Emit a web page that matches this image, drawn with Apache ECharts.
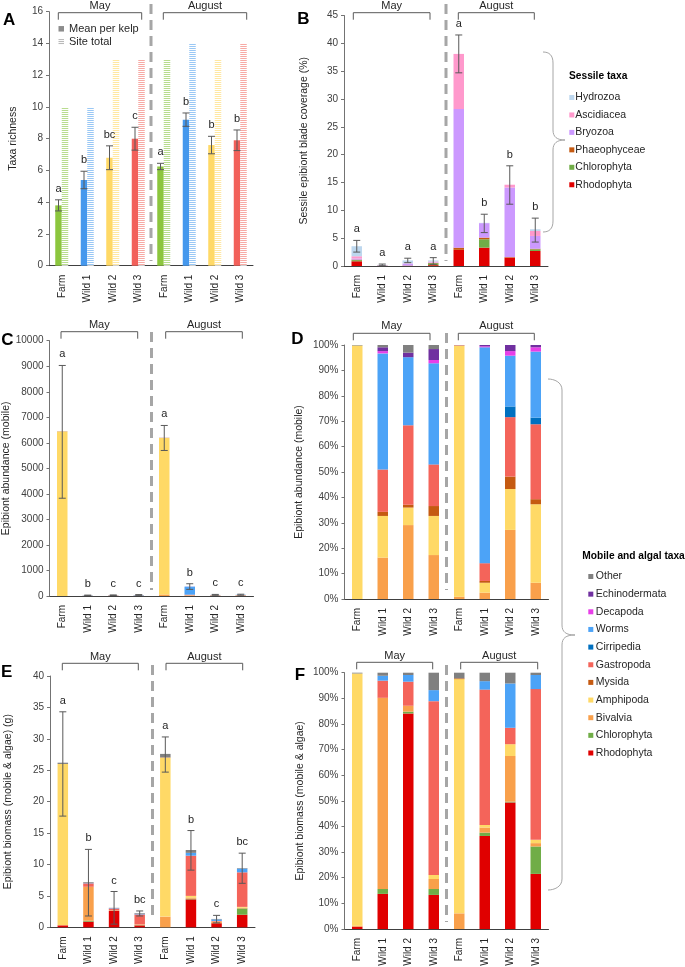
<!DOCTYPE html>
<html><head><meta charset="utf-8">
<script src="https://cdn.jsdelivr.net/npm/echarts@6/dist/echarts.min.js"></script>
<style>html,body{margin:0;padding:0;background:#fff}#c{width:685px;height:967px}</style>
</head><body><div id="c"></div>
<script>
// ---------- categories ----------
const sites = ['Farm', 'Wild 1', 'Wild 2', 'Wild 3'];
const months = ['May', 'August'];
const categories = months.flatMap(m => sites.map(s => m + '|' + s));

// ---------- Panel A: taxa richness ----------
const richnessMean = [3.8, 5.4, 6.8, 8.0, 6.25, 9.2, 7.6, 7.9];
const richnessLow = [3.45, 4.85, 6.05, 7.28, 6.05, 8.78, 7.05, 7.25];
const richnessHigh = [4.15, 5.95, 7.55, 8.72, 6.45, 9.62, 8.15, 8.55];
const richnessTotal = [10, 10, 13, 13, 13, 14, 13, 14];
const richnessLetters = ['a', 'b', 'bc', 'c', 'a', 'b', 'b', 'b'];

// ---------- Panel B: sessile coverage (%) ----------
const sessileTaxa = ['Rhodophyta', 'Chlorophyta', 'Phaeophyceae', 'Bryozoa', 'Ascidiacea', 'Hydrozoa']; // bottom -> top
const coverage = [
  [0.85, 0.05, 0.05, 0.15, 2.9, 3.3, 1.5, 2.7],
  [0.2, 0.02, 0.03, 0.35, 0.0, 1.5, 0.0, 0.3],
  [0.1, 0.0, 0.0, 0.05, 0.4, 0.3, 0.1, 0.1],
  [0.2, 0.05, 0.35, 0.1, 24.9, 2.6, 12.5, 2.3],
  [0.4, 0.0, 0.05, 0.15, 9.9, 0.0, 0.5, 0.9],
  [1.8, 0.08, 0.52, 0.2, 0.0, 0.05, 0.0, 0.3]
];
const coverageLow = [2.5, 0.05, 0.6, 0.3, 34.7, 6.0, 11.1, 4.3];
const coverageHigh = [4.6, 0.35, 1.4, 1.5, 41.5, 9.3, 18.0, 8.6];
const coverageLetters = ['a', 'a', 'a', 'a', 'a', 'b', 'b', 'b'];

// ---------- Panel C / D: mobile abundance ----------
const mobileTaxa = ['Bivalvia', 'Amphipoda', 'Mysida', 'Gastropoda', 'Cirripedia', 'Worms', 'Decapoda', 'Echinodermata', 'Other']; // bottom -> top
const abundance = [
  [0, 4, 9, 7, 60, 9, 12, 3],
  [6440, 4, 2, 6, 6130, 14, 7, 15],
  [0, 0.4, 0.3, 1.6, 0, 3, 2, 1],
  [5, 4, 9, 7, 5, 26, 10, 15],
  [0, 0, 0, 0, 0, 0, 2, 1.3],
  [0, 11, 8, 16, 0, 315, 9, 13],
  [0, 0.2, 0, 0.5, 0, 1.5, 0.8, 0.8],
  [0, 0.4, 0.6, 1.7, 0, 2, 1, 0.4],
  [5, 0.2, 0.9, 0.6, 5, 0, 0, 0.1]
];
const abundanceLow = [3830, 15, 20, 25, 5700, 260, 28, 30];
const abundanceHigh = [9030, 35, 42, 55, 6680, 480, 62, 70];
const abundanceLetters = ['a', 'b', 'c', 'c', 'a', 'b', 'c', 'c'];
const abundancePct = [
  [0, 16.3, 29.1, 17.3, 0.9, 2.5, 27.2, 6.4],
  [99.8, 16.4, 6.9, 15.4, 98.8, 3.9, 16.1, 30.9],
  [0, 1.6, 1.1, 3.9, 0, 0.7, 4.9, 2.0],
  [0, 16.7, 31.3, 16.4, 0.2, 7.0, 23.4, 29.5],
  [0, 0, 0, 0, 0, 0, 4.2, 2.6],
  [0, 45.7, 26.8, 39.8, 0, 85.0, 20.0, 26.0],
  [0, 0.9, 0, 1.3, 0, 0.4, 1.8, 1.7],
  [0, 1.5, 1.8, 4.3, 0, 0.5, 2.4, 0.9],
  [0.2, 0.9, 3.0, 1.6, 0.1, 0, 0, 0]
];

// ---------- Panel E / F: biomass ----------
const biomassTaxa = ['Rhodophyta', 'Chlorophyta', 'Bivalvia', 'Amphipoda', 'Mysida', 'Gastropoda', 'Cirripedia', 'Worms', 'Decapoda', 'Echinodermata', 'Other'];
const biomass = [
  [0.3, 0.9, 2.6, 0.3, 0, 4.45, 0.65, 2.0],
  [0, 0.15, 0.02, 0.05, 0, 0.1, 0.01, 1.0],
  [0.05, 5.4, 0.08, 0.05, 1.7, 0.2, 0.2, 0.12],
  [25.65, 0, 0, 0.05, 25.3, 0.25, 0.05, 0.13],
  [0, 0, 0, 0, 0.05, 0, 0, 0],
  [0, 0.55, 0.3, 1.6, 0, 6.4, 0.1, 5.5],
  [0, 0, 0, 0, 0, 0, 0, 0],
  [0, 0.05, 0.07, 0.1, 0, 0.45, 0.25, 0.6],
  [0, 0, 0, 0, 0, 0, 0, 0],
  [0, 0, 0, 0, 0, 0, 0, 0],
  [0.2, 0.12, 0.03, 0.1, 0.55, 0.45, 0.07, 0.08]
];
const biomassLow = [17.7, 1.8, 0.5, 1.8, 24.7, 9.1, 0.7, 7.0];
const biomassHigh = [34.3, 12.4, 5.7, 2.6, 30.3, 15.4, 1.9, 11.8];
const biomassLetters = ['a', 'b', 'c', 'bc', 'a', 'b', 'c', 'bc'];
const biomassPct = [
  [0.9, 13.7, 84.1, 13.3, 0, 36.3, 49.4, 21.5],
  [0, 1.9, 0.7, 2.3, 0, 1.3, 0.3, 10.7],
  [0.4, 74.6, 2.3, 3.9, 6.1, 2.0, 17.8, 1.3],
  [98.4, 0, 0, 1.6, 91.4, 1.0, 4.6, 1.3],
  [0, 0, 0, 0, 0.3, 0, 0, 0],
  [0, 6.7, 9.4, 67.8, 0, 52.8, 6.4, 58.8],
  [0, 0, 0, 0, 0, 0, 0, 0],
  [0, 1.9, 2.6, 4.3, 0, 3.3, 17.3, 5.5],
  [0, 0, 0, 0, 0, 0, 0, 0],
  [0, 0, 0, 0, 0, 0, 0, 0],
  [0.3, 1.2, 0.9, 6.8, 2.2, 3.3, 4.2, 0.9]
];

// ---------- legends ----------
const sessileLegend = ['Hydrozoa', 'Ascidiacea', 'Bryozoa', 'Phaeophyceae', 'Chlorophyta', 'Rhodophyta'];
const mobileLegend = ['Other', 'Echinodermata', 'Decapoda', 'Worms', 'Cirripedia', 'Gastropoda', 'Mysida', 'Amphipoda', 'Bivalvia', 'Chlorophyta', 'Rhodophyta'];

// ---------- styles ----------
const FONT = '"Liberation Sans", Arial, sans-serif';
const taxonColor = {
  Rhodophyta: '#e00000', Chlorophyta: '#70ad47', Phaeophyceae: '#c55a11', Bryozoa: '#cc99ff',
  Ascidiacea: '#ff99cc', Hydrozoa: '#bdd7ee',
  Other: '#808080', Echinodermata: '#7030a0', Decapoda: '#e83ee8', Worms: '#4ca3f7',
  Cirripedia: '#0070c0', Gastropoda: '#f4645a', Mysida: '#c55a11', Amphipoda: '#ffd966', Bivalvia: '#f9a04b'
};
const siteColors = ['#8cc63e', '#4598ed', '#ffd966', '#f2605a'];
const stripeColors = ['#b8dc8e', '#9ac8f5', '#ffe8a3', '#f7aaa5'];

function stripe(color) {
  const c = document.createElement('canvas');
  c.width = 4; c.height = 2;
  const ctx = c.getContext('2d');
  ctx.fillStyle = '#ffffff'; ctx.fillRect(0, 0, 4, 2);
  ctx.fillStyle = color; ctx.fillRect(0, 0, 4, 1);
  return { image: c, repeat: 'repeat' };
}

const grids = [
  { left: 49, top: 11.7, width: 204, height: 254 },
  { left: 344, top: 15.5, width: 204, height: 250.5 },
  { left: 49.5, top: 340.7, width: 204, height: 255.3 },
  { left: 344.5, top: 345, width: 204, height: 254 },
  { left: 50, top: 676, width: 205, height: 251.3 },
  { left: 344.5, top: 672.7, width: 204, height: 256.3 }
].map(g => Object.assign({ outerBoundsMode: 'none', containLabel: false }, g));

function xAxisCfg(gi) {
  return {
    type: 'category', gridIndex: gi, data: categories,
    axisTick: { show: false },
    axisLine: { show: true, lineStyle: { color: '#404040', width: 1 } },
    splitLine: { show: false },
    axisLabel: { rotate: 90, margin: 9, interval: 0, fontSize: 10, color: '#262626', fontFamily: FONT,
      formatter: v => v.split('|')[1] }
  };
}
function yAxisCfg(gi, max, interval, name, gap, pct) {
  return {
    type: 'value', gridIndex: gi, min: 0, max: max, interval: interval,
    name: name, nameLocation: 'middle', nameGap: gap,
    nameTextStyle: { fontSize: 10.5, color: '#262626', fontFamily: FONT },
    splitLine: { show: false },
    axisLine: { show: true, lineStyle: { color: '#737373' } },
    axisTick: { show: true, length: 3, lineStyle: { color: '#737373' } },
    axisLabel: { fontSize: 10, color: '#404040', fontFamily: FONT, margin: 6,
      formatter: pct ? (v => v + '%') : (v => String(v)) }
  };
}

function errorSeries(gi, lows, highs, letters, offset) {
  return {
    type: 'custom', name: 'err' + gi, xAxisIndex: gi, yAxisIndex: gi, z: 10, silent: true,
    encode: { x: 0, y: [1, 2] },
    data: lows.map((lo, i) => [i, lo, highs[i]]),
    renderItem: function (params, api) {
      const i = api.value(0);
      const top = api.coord([i, api.value(2)]);
      const bot = api.coord([i, api.value(1)]);
      const x = top[0] + offset;
      const st = { stroke: '#595959', lineWidth: 1 };
      return {
        type: 'group', children: [
          { type: 'line', shape: { x1: x, y1: top[1], x2: x, y2: bot[1] }, style: st },
          { type: 'line', shape: { x1: x - 3.5, y1: top[1], x2: x + 3.5, y2: top[1] }, style: st },
          { type: 'line', shape: { x1: x - 3.5, y1: bot[1], x2: x + 3.5, y2: bot[1] }, style: st },
          { type: 'text', x: x, y: top[1] - 11, style: { text: letters[params.dataIndex], fill: '#262626',
            font: '11px ' + FONT, align: 'center', verticalAlign: 'middle' } }
        ]
      };
    }
  };
}

function stackSeries(gi, stackName, taxa, rows, barWidth) {
  return taxa.map((n, k) => ({
    type: 'bar', name: n, xAxisIndex: gi, yAxisIndex: gi, stack: stackName, barWidth: barWidth,
    data: rows[k], itemStyle: { color: taxonColor[n] }, emphasis: { disabled: true }
  }));
}

const series = [
  { type: 'bar', name: 'Mean per kelp', xAxisIndex: 0, yAxisIndex: 0, barWidth: 6.5, barGap: '0%',
    emphasis: { disabled: true },
    data: richnessMean.map((v, i) => ({ value: v, itemStyle: { color: siteColors[i % 4] } })) },
  { type: 'bar', name: 'Site total', xAxisIndex: 0, yAxisIndex: 0, barWidth: 6.5, barGap: '0%',
    emphasis: { disabled: true },
    data: richnessTotal.map((v, i) => ({ value: v, itemStyle: { color: stripe(stripeColors[i % 4]) } })) },
  errorSeries(0, richnessLow, richnessHigh, richnessLetters, -3.25),
  ...stackSeries(1, 'B', sessileTaxa, coverage, 10.5),
  errorSeries(1, coverageLow, coverageHigh, coverageLetters, 0),
  ...stackSeries(2, 'C', mobileTaxa, abundance, 10.5),
  errorSeries(2, abundanceLow, abundanceHigh, abundanceLetters, 0),
  ...stackSeries(3, 'D', mobileTaxa, abundancePct, 10.5),
  ...stackSeries(4, 'E', biomassTaxa, biomass, 10.5),
  errorSeries(4, biomassLow, biomassHigh, biomassLetters, 0),
  ...stackSeries(5, 'F', biomassTaxa, biomassPct, 10.5)
];

const legendText = { fontSize: 10.5, color: '#262626', fontFamily: FONT, lineHeight: 13 };
const legends = [
  { left: 58.5, top: 22.3, padding: 0, orient: 'vertical', icon: 'rect', itemWidth: 5.5, itemHeight: 5.5, itemGap: 0,
    selectedMode: false, textStyle: Object.assign({}, legendText, { fontSize: 11 }),
    data: [{ name: 'Mean per kelp', itemStyle: { color: '#8c8c8c' } },
           { name: 'Site total', itemStyle: { color: stripe('#b5b5b5') } }] },
  { left: 569.3, top: 91, padding: 0, orient: 'vertical', icon: 'rect', itemWidth: 5, itemHeight: 5, itemGap: 4.45,
    selectedMode: false, textStyle: Object.assign({}, legendText, { padding: [0, 0, 0, -4] }),
    data: sessileLegend.map(n => ({ name: n, itemStyle: { color: taxonColor[n] } })) },
  { left: 588.3, top: 570, padding: 0, orient: 'vertical', icon: 'rect', itemWidth: 5, itemHeight: 5, itemGap: 4.65,
    selectedMode: false, textStyle: Object.assign({}, legendText, { padding: [0, 0, 0, -2.5] }),
    data: mobileLegend.map(n => ({ name: n, itemStyle: { color: taxonColor[n] } })) }
];

// annotations (brackets, month labels, separators, braces, panel letters)
const brackets = [
  { y: 12.7, ty: 5.7, may: [58.3, 141.7], aug: [163.3, 246.7] },
  { y: 12.7, ty: 5.7, may: [353.3, 430], aug: [458.3, 534.3] },
  { y: 331.7, ty: 325, may: [61, 137.7], aug: [165.7, 242.3] },
  { y: 333.3, ty: 326, may: [353.3, 430], aug: [458.3, 534.3] },
  { y: 663.3, ty: 656.7, may: [62.3, 138.3], aug: [166, 242.7] },
  { y: 662.3, ty: 655.7, may: [356.7, 432.7], aug: [460.7, 537.7] }
];
const separators = [[4, 261], [4, 261], [332, 590], [333, 590], [665, 920], [665, 922]];
const panelLetters = [['A', 9.2, 20.8], ['B', 303.3, 19.2], ['C', 7.5, 340], ['D', 297.5, 339.5], ['E', 6.7, 672.5], ['F', 300, 675]];
// brace geometry: [xOuter, xInner, xTip, yTop, yTip, yBottom]
const braces = [[543, 553, 565, 52, 140, 232], [548, 562, 575, 379, 635, 890]];

const chart = echarts.init(document.getElementById('c'), null, { renderer: 'canvas' });
chart.setOption({
  animation: false,
  backgroundColor: '#ffffff',
  textStyle: { fontFamily: FONT },
  grid: grids,
  xAxis: grids.map((g, i) => xAxisCfg(i)),
  yAxis: [
    yAxisCfg(0, 16, 2, 'Taxa richness', 30.5, false),
    yAxisCfg(1, 45, 5, 'Sessile epibiont blade coverage (%)', 34, false),
    yAxisCfg(2, 10000, 1000, 'Epibiont abundance (mobile)', 36, false),
    yAxisCfg(3, 100, 10, 'Epibiont abundance (mobile)', 40, true),
    yAxisCfg(4, 40, 5, 'Epibiont biomass (mobile & algae) (g)', 36, false),
    yAxisCfg(5, 100, 10, 'Epibiont biomass (mobile & algae)', 39, true)
  ],
  legend: legends,
  series: series
});

const gfx = [];
const lineStyleGray = { stroke: '#595959', lineWidth: 1, fill: null };
brackets.forEach((b, gi) => {
  [['May', b.may], ['August', b.aug]].forEach(([label, xs]) => {
    gfx.push({ type: 'polyline', silent: true,
      shape: { points: [[xs[0], b.y + 7], [xs[0], b.y], [xs[1], b.y], [xs[1], b.y + 7]] },
      style: lineStyleGray });
    gfx.push({ type: 'text', silent: true, x: (xs[0] + xs[1]) / 2, y: b.ty,
      style: { text: label, font: '11px ' + FONT, fill: '#262626', align: 'center', verticalAlign: 'middle' } });
  });
  const c3 = chart.convertToPixel({ xAxisIndex: gi }, 3);
  const c4 = chart.convertToPixel({ xAxisIndex: gi }, 4);
  const sx = (c3 + c4) / 2;
  gfx.push({ type: 'line', silent: true, shape: { x1: sx, y1: separators[gi][0], x2: sx, y2: separators[gi][1] },
    style: { stroke: '#a6a6a6', lineWidth: 3, lineDash: [10, 6] } });
});
panelLetters.forEach(([t, x, y]) => gfx.push({ type: 'text', silent: true, x, y,
  style: { text: t, font: 'bold 17px ' + FONT, fill: '#000', align: 'center', verticalAlign: 'middle' } }));
gfx.push({ type: 'text', silent: true, x: 569, y: 75.7,
  style: { text: 'Sessile taxa', font: 'bold 10.2px ' + FONT, fill: '#000', align: 'left', verticalAlign: 'middle' } });
gfx.push({ type: 'text', silent: true, x: 582.3, y: 555.7,
  style: { text: 'Mobile and algal taxa', font: 'bold 10.2px ' + FONT, fill: '#000', align: 'left', verticalAlign: 'middle' } });
const braceStyle = { stroke: '#a6a6a6', lineWidth: 1, fill: null };
braces.forEach(([xo, xi, xt, y0, ym, y1]) => {
  gfx.push({ type: 'bezierCurve', silent: true, shape: { x1: xo, y1: y0, cpx1: xo + 6, cpy1: y0, cpx2: xi, cpy2: y0 + 3, x2: xi, y2: y0 + 11 }, style: braceStyle });
  gfx.push({ type: 'line', silent: true, shape: { x1: xi, y1: y0 + 11, x2: xi, y2: ym - 10 }, style: braceStyle });
  gfx.push({ type: 'bezierCurve', silent: true, shape: { x1: xi, y1: ym - 10, cpx1: xi, cpy1: ym - 3, cpx2: xi + 4, cpy2: ym, x2: xt, y2: ym }, style: braceStyle });
  gfx.push({ type: 'bezierCurve', silent: true, shape: { x1: xt, y1: ym, cpx1: xi + 4, cpy1: ym, cpx2: xi, cpy2: ym + 3, x2: xi, y2: ym + 10 }, style: braceStyle });
  gfx.push({ type: 'line', silent: true, shape: { x1: xi, y1: ym + 10, x2: xi, y2: y1 - 11 }, style: braceStyle });
  gfx.push({ type: 'bezierCurve', silent: true, shape: { x1: xi, y1: y1 - 11, cpx1: xi, cpy1: y1 - 3, cpx2: xo + 6, cpy2: y1, x2: xo, y2: y1 }, style: braceStyle });
});
chart.setOption({ graphic: gfx });
</script>
</body></html>
